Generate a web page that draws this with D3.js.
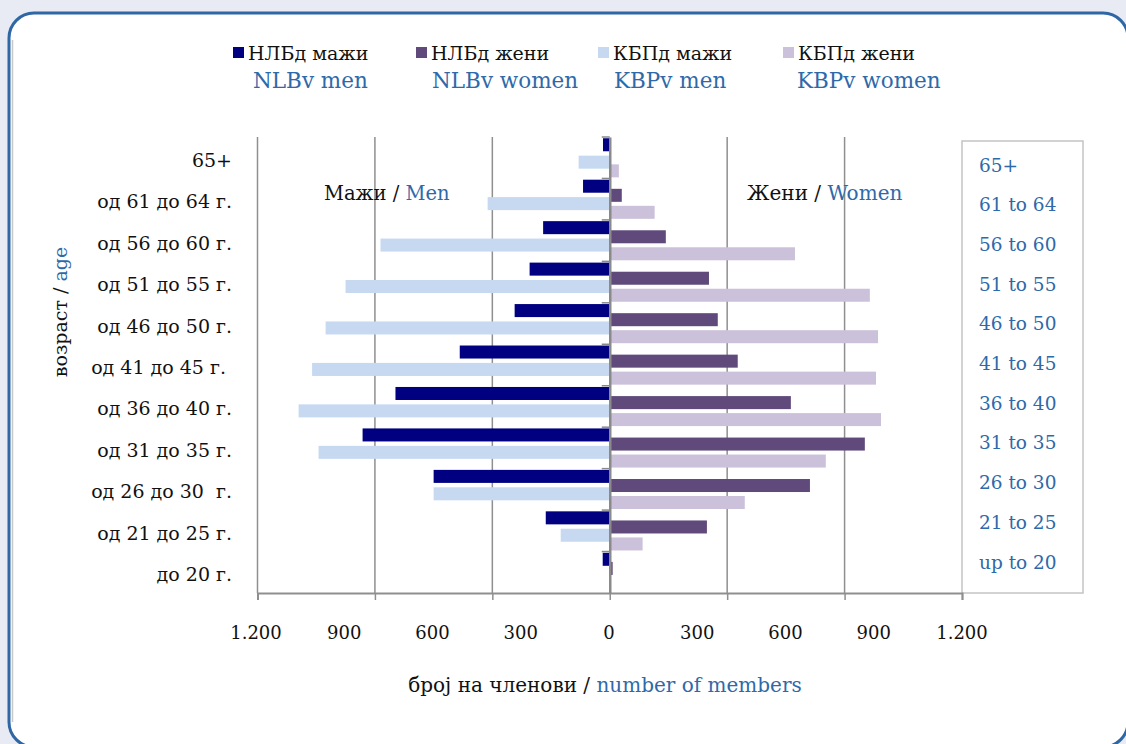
<!DOCTYPE html>
<html>
<head>
<meta charset="utf-8">
<script src="https://cdn.jsdelivr.net/npm/d3@7"></script>
<style>
  body { margin: 0; background: #e8ebf3; }
  svg { display: block; }
  text { font-family: "DejaVu Serif", serif; }
</style>
</head>
<body>
<div id="pyramid"></div>
<script>
// age groups, top to bottom
var ageMk = ["65+", "од 61 до 64 г.", "од 56 до 60 г.", "од 51 до 55 г.", "од 46 до 50 г.",
             "од 41 до 45 г. ", "од 36 до 40 г.", "од 31 до 35 г.", "од 26 до 30  г.",
             "од 21 до 25 г.", "до 20 г."];
var ageEn = ["65+", "61 to 64", "56 to 60", "51 to 55", "46 to 50", "41 to 45",
             "36 to 40", "31 to 35", "26 to 30", "21 to 25", "up to 20"];

// members per group
var nlbMen   = [23, 91, 227, 273, 324, 511, 730, 842, 600, 218, 24];
var kbpMen   = [106, 416, 781, 900, 968, 1014, 1060, 992, 600, 167, 0];
var nlbWomen = [0, 41, 191, 338, 368, 436, 617, 869, 682, 331, 10];
var kbpWomen = [31, 153, 631, 886, 914, 907, 924, 736, 460, 112, 0];

var gridTicks  = [-1200, -800, -400, 400, 800];
var labelTicks = [-1200, -900, -600, -300, 0, 300, 600, 900, 1200];

var legMk = ["НЛБд мажи", "НЛБд жени", "КБПд мажи", "КБПд жени"];
var legEn = ["NLBv men", "NLBv women", "KBPv men", "KBPv women"];

var blue = "#2e69a9";
var cNlbMen = "#000080", cNlbWomen = "#604a7b", cKbpMen = "#c6d9f1", cKbpWomen = "#ccc1da";

var width = 1126, height = 744;

var svg = d3.select("#pyramid").append("svg")
    .attr("width", width)
    .attr("height", height);

// rounded frame
svg.append("rect")
    .attr("x", 9).attr("y", 13)
    .attr("width", 1119).attr("height", 734)
    .attr("rx", 25)
    .style("fill", "white")
    .style("stroke", "#2f67a5")
    .style("stroke-width", 3);
svg.append("line")
    .attr("x1", 12.5).attr("x2", 12.5)
    .attr("y1", 40).attr("y2", 722)
    .style("stroke", "#c8c8c8")
    .style("stroke-width", 1.5);

// scales
var x = d3.scaleLinear().domain([-1200, 1200]).range([257.5, 962]);
var y = d3.scaleBand().domain(ageMk).range([137, 593]);
var bw = y.bandwidth();
var barH = bw * 0.314;

// right box with english labels
svg.append("rect")
    .attr("x", x(1200)).attr("y", 141)
    .attr("width", 121).attr("height", 593 - 141)
    .style("fill", "none")
    .style("stroke", "#c4c4c4")
    .style("stroke-width", 1.5);

// grid lines
svg.append("g").selectAll("line")
    .data(gridTicks)
  .enter().append("line")
    .attr("x1", function(d) { return x(d); })
    .attr("x2", function(d) { return x(d); })
    .attr("y1", 137)
    .attr("y2", 593)
    .style("stroke", "#8f8f8f")
    .style("stroke-width", 1.5);

// bars
var series = [
  {vals: nlbMen,   sign: -1, off: 0.03, color: cNlbMen},
  {vals: kbpMen,   sign: -1, off: 0.45, color: cKbpMen},
  {vals: nlbWomen, sign:  1, off: 0.25, color: cNlbWomen},
  {vals: kbpWomen, sign:  1, off: 0.66, color: cKbpWomen}
];

var bars = svg.append("g");
series.forEach(function(s) {
  bars.selectAll(null)
      .data(s.vals)
    .enter().append("rect")
      .attr("x", function(d) { return s.sign < 0 ? x(-d) : x(0); })
      .attr("width", function(d) { return Math.abs(x(d) - x(0)); })
      .attr("y", function(d, i) { return y(ageMk[i]) + bw * s.off; })
      .attr("height", barH)
      .style("fill", s.color);
});

// bottom axis
var xAxis = svg.append("g")
    .attr("transform", "translate(0,593)")
    .call(d3.axisBottom(x).tickValues([-1200, -800, -400, 0, 400, 800, 1200])
              .tickSize(7).tickFormat(""));
xAxis.select(".domain").style("stroke", "#8f8f8f").style("stroke-width", 2);
xAxis.selectAll(".tick line").style("stroke", "#8f8f8f").style("stroke-width", 1.5);

// value labels (spaced every 300, like the original)
var fmt = function(d) { return d3.format(",")(Math.abs(d)).replace(",", "."); };
var lx = d3.scaleLinear().domain([-1200, 1200]).range([256, 962]);
svg.append("g").selectAll("text")
    .data(labelTicks)
  .enter().append("text")
    .attr("x", function(d) { return lx(d); })
    .attr("y", 632)
    .attr("text-anchor", "middle")
    .attr("dominant-baseline", "central")
    .style("font-size", "18px")
    .style("fill", "#111")
    .text(fmt);

// zero line with category ticks
var yAxis = svg.append("g")
    .attr("transform", "translate(" + x(0) + ",0)")
    .call(d3.axisLeft(y).tickSize(0).tickFormat(""));
yAxis.select(".domain").style("stroke", "#8a8a8a").style("stroke-width", 2.5);
svg.append("g").selectAll("line")
    .data(ageMk)
  .enter().append("line")
    .attr("x1", x(0) - 8)
    .attr("x2", x(0))
    .attr("y1", function(d) { return y(d); })
    .attr("y2", function(d) { return y(d); })
    .style("stroke", "#8a8a8a")
    .style("stroke-width", 1.5);

// category labels left
svg.append("g").selectAll("text")
    .data(ageMk)
  .enter().append("text")
    .attr("x", 232)
    .attr("y", function(d) { return y(d) + bw / 2 + 2; })
    .attr("text-anchor", "end")
    .attr("dominant-baseline", "central")
    .style("white-space", "pre")
    .style("font-size", "19px")
    .style("fill", "#111")
    .text(function(d) { return d; });

// english labels right
var ey = d3.scalePoint().domain(ageEn).range([165, 562]);
svg.append("g").selectAll("text")
    .data(ageEn)
  .enter().append("text")
    .attr("x", 979)
    .attr("y", function(d) { return ey(d); })
    .attr("dominant-baseline", "central")
    .style("font-size", "18.5px")
    .style("fill", blue)
    .text(function(d) { return d; });

// side titles
function twoTone(sel, a, b) {
  sel.append("tspan").style("fill", "#111").text(a);
  sel.append("tspan").style("fill", blue).text(b);
}
svg.append("text")
    .attr("x", 324).attr("y", 193)
    .attr("dominant-baseline", "central")
    .style("font-size", "19.5px")
    .call(twoTone, "Мажи / ", "Men");
svg.append("text")
    .attr("x", 747).attr("y", 193)
    .attr("dominant-baseline", "central")
    .style("font-size", "20px")
    .call(twoTone, "Жени / ", "Women");

// axis titles
svg.append("text")
    .attr("x", 605).attr("y", 685)
    .attr("text-anchor", "middle")
    .attr("dominant-baseline", "central")
    .style("font-size", "20px")
    .call(twoTone, "број на членови / ", "number of members");
svg.append("text")
    .attr("transform", "translate(60,312) rotate(-90)")
    .attr("text-anchor", "middle")
    .attr("dominant-baseline", "central")
    .style("font-size", "19px")
    .call(twoTone, "возраст / ", "age");

// legend
var legColor = [cNlbMen, cNlbWomen, cKbpMen, cKbpWomen];
var legX  = [233, 416, 598, 783];

var leg = svg.append("g").selectAll("g")
    .data(legMk)
  .enter().append("g")
    .attr("transform", function(d, i) { return "translate(" + legX[i] + ",0)"; });
leg.append("rect")
    .attr("x", 0).attr("y", 47)
    .attr("width", 11).attr("height", 11)
    .style("fill", function(d, i) { return legColor[i]; });
leg.append("text")
    .attr("x", 15).attr("y", 53)
    .attr("dominant-baseline", "central")
    .style("font-size", "19px")
    .style("fill", "#111")
    .text(function(d) { return d; });
leg.append("text")
    .attr("x", function(d, i) { return i == 0 ? 20 : (i == 3 ? 14 : 16); })
    .attr("y", 80)
    .attr("dominant-baseline", "central")
    .style("font-size", "21.5px")
    .style("fill", blue)
    .text(function(d, i) { return legEn[i]; });
</script>
</body>
</html>
